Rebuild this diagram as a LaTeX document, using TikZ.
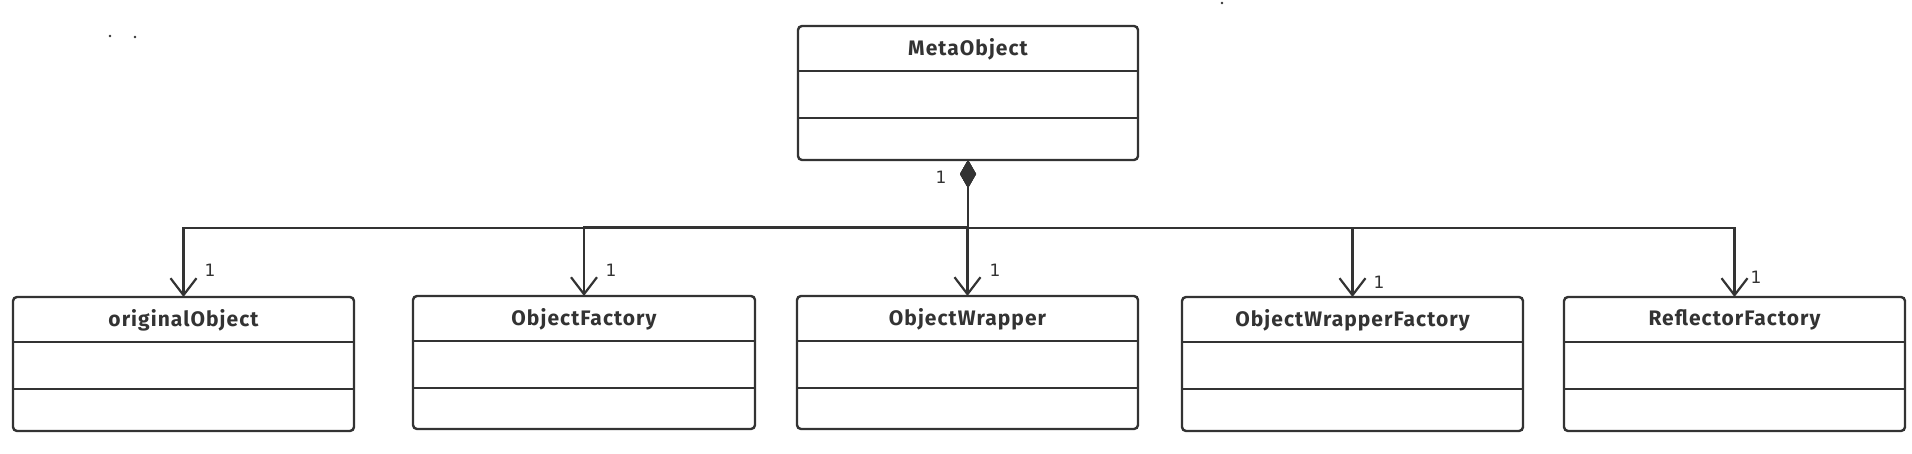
\documentclass[tikz,border=0pt]{standalone}
\usepackage{fontspec}
\setmainfont{Fira Sans}
\newfontfamily\titlefont[LetterSpace=5]{Fira Sans}
\newfontfamily\numfont{DejaVu Sans}
\usetikzlibrary{arrows.meta,fit}
\definecolor{ink}{HTML}{333333}
\tikzset{
  cls/.style={draw=ink, line width=1.2pt, rounded corners=2pt, inner sep=0pt, outer sep=0pt},
  divider/.style={draw=ink, line width=1.2pt},
  title/.style={text=ink, font=\titlefont\bfseries\fontsize{10.5}{12}\selectfont, inner sep=0pt},
  mult/.style={text=ink, font=\numfont\fontsize{8.5}{10}\selectfont, inner sep=0pt},
  assoc/.style={draw=ink, line width=1.1pt,
    {Diamond[length=14pt,width=8pt,fill=ink]}-{Straight Barb[length=8.5pt,width=13pt]}},
  speck/.style={fill=ink, circle, inner sep=0pt, minimum size=1.4pt},
}
\newcommand\umlclass[6]{%
  \node[cls, fit={(#2,#3) (#4,#5)}] (#1) {};
  \draw[divider] (#2,{#3+45}) -- (#4,{#3+45});
  \draw[divider] (#2,{#3+92}) -- (#4,{#3+92});
  \node[title] at ({(#2+#4)/2},{#3+23}) {#6};
}
\begin{document}
\begin{tikzpicture}[x=0.5pt,y=-0.5pt]
\useasboundingbox (0,0) rectangle (1912,454);
\umlclass{meta}{798}{26}{1138}{160}{MetaObject}
\umlclass{oo}{13}{297}{354}{431}{originalObject}
\umlclass{of}{413}{296}{755}{429}{ObjectFactory}
\umlclass{ow}{797}{296}{1138}{429}{ObjectWrapper}
\umlclass{owf}{1182}{297}{1523}{431}{ObjectWrapperFactory}
\umlclass{rf}{1564}{297}{1905}{431}{ReflectorFactory}

\draw[assoc] (meta.south) -- ++(0,68) -| (oo.north);
\draw[assoc] (meta.south) -- ++(0,67) -| (of.north);
\draw[assoc] (meta.south) -- ++(0,68) -| (ow.north);
\draw[assoc] (meta.south) -- ++(0,68) -| (owf.north);
\draw[assoc] (meta.south) -- ++(0,68) -| (rf.north);

\node[mult] (m0) at (941,177) {1};
\node[mult] (m1) at (210,270) {1};
\node[mult] (m2) at (611,270) {1};
\node[mult] (m3) at (995,270) {1};
\node[mult] (m4) at (1379,282) {1};
\node[mult] (m5) at (1756,277) {1};

\node[speck] (s1) at (110,36) {};
\node[speck] (s2) at (135,37) {};
\node[speck] (s3) at (1222,3) {};
\end{tikzpicture}
\end{document}
